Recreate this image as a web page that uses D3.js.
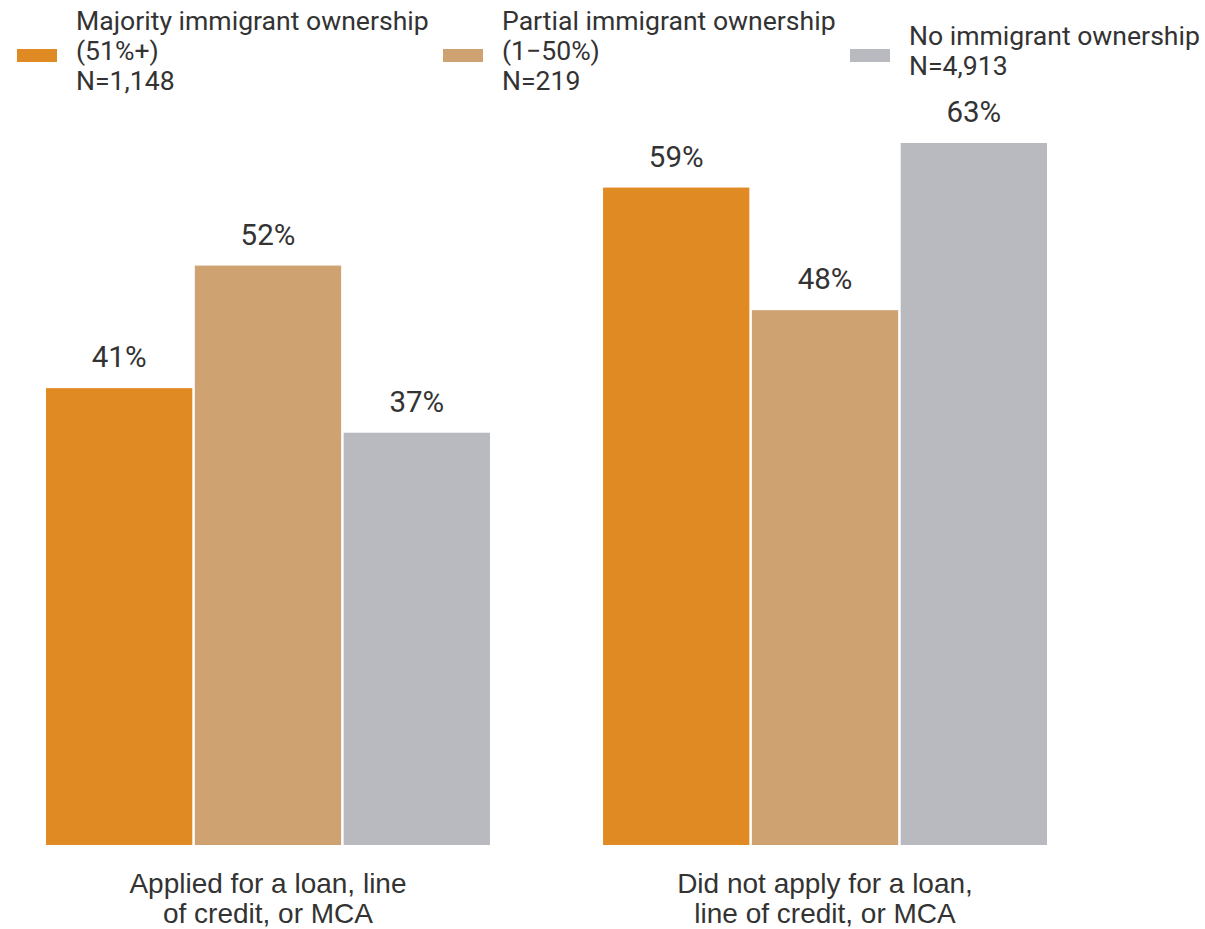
<!DOCTYPE html>
<html>
<head>
<meta charset="utf-8">
<script src="https://d3js.org/d3.v7.min.js"></script>
<style>
  body { margin: 0; background: #fff; }
  text { fill: #333; }
</style>
</head>
<body>
<div id="chart"></div>
<script>
// data
const categories = [
    ["Applied for a loan, line", "of credit, or MCA"],
    ["Did not apply for a loan,", "line of credit, or MCA"]
];
const seriesNames = ["majority", "partial", "none"];
const legendLabels = [
    ["Majority immigrant ownership", "(51%+)", "N=1,148"],
    ["Partial immigrant ownership", "(1\u221250%)", "N=219"],
    ["No immigrant ownership", "N=4,913"]
];
const majorityValues = [41, 59];
const partialValues = [52, 48];
const noneValues = [37, 63];
const colors = ["#e08a24", "#cfa272", "#b9babf"];

const width = 1205, height = 929;

let svg = d3.select("#chart").append("svg")
    .attr("width", width)
    .attr("height", height);

// build rows from the arrays
let rows = categories.map((c, i) => ({
    key: i,
    lines: c,
    values: [majorityValues[i], partialValues[i], noneValues[i]]
}));

let x0 = d3.scaleBand()
    .domain(rows.map(d => d.key))
    .range([46, 1047])
    .paddingInner(0.203)
    .paddingOuter(0);

let x1 = d3.scaleBand()
    .domain(seriesNames)
    .range([0, x0.bandwidth()])
    .paddingInner(0.017)
    .paddingOuter(0);

let y = d3.scaleLinear()
    .domain([0, 63])
    .range([845, 143]);

let color = d3.scaleOrdinal().domain(seriesNames).range(colors);

// bars
let groups = svg.selectAll(".group")
    .data(rows)
    .join("g")
    .attr("class", "group")
    .attr("transform", d => "translate(" + x0(d.key) + ",0)");

let cells = groups.selectAll(".cell")
    .data(d => d.values.map((v, i) => ({series: seriesNames[i], value: v})))
    .join("g")
    .attr("class", "cell");

cells.append("rect")
    .attr("x", d => x1(d.series))
    .attr("y", d => y(d.value))
    .attr("width", x1.bandwidth())
    .attr("height", d => y(0) - y(d.value))
    .attr("fill", d => color(d.series));

cells.append("text")
    .attr("x", d => x1(d.series) + x1.bandwidth() / 2)
    .attr("y", d => y(d.value) - 21)
    .attr("text-anchor", "middle")
    .style("font-family", "Roboto, sans-serif")
    .style("font-size", "29.5px")
    .text(d => d.value + "%");

// category labels
groups.append("text")
    .attr("text-anchor", "middle")
    .style("font-family", "'Liberation Sans', Arial, sans-serif")
    .style("font-size", "28px")
    .selectAll("tspan")
    .data(d => d.lines)
    .join("tspan")
    .attr("x", x0.bandwidth() / 2)
    .attr("y", (d, i) => 893 + i * 30)
    .text(d => d);

// legend
const legendX = [17, 443, 850];
let legend = svg.selectAll(".legend")
    .data(legendLabels)
    .join("g")
    .attr("class", "legend")
    .attr("transform", (d, i) => "translate(" + legendX[i] + ",0)");

legend.append("rect")
    .attr("x", 0)
    .attr("y", 49)
    .attr("width", 40)
    .attr("height", 13)
    .attr("fill", (d, i) => colors[i]);

legend.append("text")
    .style("font-family", "Roboto, sans-serif")
    .style("font-size", "26.6px")
    .selectAll("tspan")
    .data(d => d.map((t, i) => ({t: t, i: i, n: d.length})))
    .join("tspan")
    .attr("x", 59)
    .attr("y", d => 59.5 + (d.i - (d.n - 1) / 2) * 30)
    .text(d => d.t);
</script>
</body>
</html>
